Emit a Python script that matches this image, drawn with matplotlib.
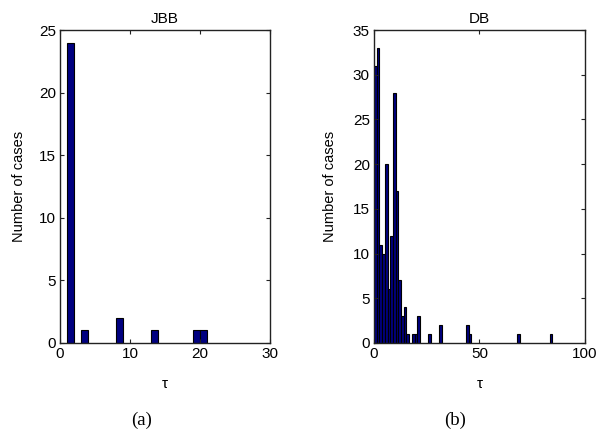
import matplotlib
matplotlib.use("Agg")
import matplotlib.pyplot as plt

# JBB histogram
jbb_centers = [1.5, 3.5, 8.5, 13.5, 19.5, 20.5]
jbb_counts = [24, 1, 2, 1, 1, 1]
jbb_width = 1.0

# DB histogram (bin index, count), bin width ~1.28
db_bin_width = 1.28
db_bins = [0, 1, 2, 3, 4, 5, 6, 7, 8, 9, 10, 11, 12, 14, 15, 16, 20, 24, 34, 35, 53, 65]
db_counts = [31, 33, 11, 10, 20, 6, 12, 28, 17, 7, 3, 4, 1, 1, 1, 3, 1, 2, 2, 1, 1, 1]

jbb_xticks = [0, 10, 20, 30]
jbb_yticks = [0, 5, 10, 15, 20, 25]
db_xticks = [0, 50, 100]
db_yticks = [0, 5, 10, 15, 20, 25, 30, 35]

bar_color = (0, 0, 0.5)
plt.rcParams['font.family'] = ['Liberation Sans', 'DejaVu Sans']

fig = plt.figure(figsize=(5.99, 4.32), dpi=100)
W, H = 599, 432
axL = fig.add_axes([60 / W, (H - 343) / H, 210 / W, 313 / H])
axR = fig.add_axes([374 / W, (H - 343) / H, 211 / W, 313 / H])

axL.bar(jbb_centers, jbb_counts, width=jbb_width, color=bar_color,
        edgecolor='black', linewidth=0.8)
db_centers = [(b + 0.5) * db_bin_width for b in db_bins]
axR.bar(db_centers, db_counts, width=db_bin_width, color=bar_color,
        edgecolor='black', linewidth=0.8)

for ax, title, xt, yt, xl, yl in [
    (axL, 'JBB', jbb_xticks, jbb_yticks, (0, 30), (0, 25)),
    (axR, 'DB', db_xticks, db_yticks, (0, 100), (0, 35)),
]:
    ax.set_xlim(*xl)
    ax.set_ylim(*yl)
    ax.set_xticks(xt)
    ax.set_yticks(yt)
    ax.tick_params(direction='in', length=3, width=0.8, top=True, right=True,
                   labelsize=11, colors='#222222', labelcolor='black', pad=3)
    for s in ax.spines.values():
        s.set_linewidth(1.0)
        s.set_color('#222222')
    ax.set_title(title, fontsize=11, pad=5)
    ax.set_ylabel('Number of cases', fontsize=10.5)
    ax.set_xlabel('τ', fontsize=11)

axL.yaxis.set_label_coords(-0.162, 0.5)
axR.yaxis.set_label_coords(-0.175, 0.5)
axL.xaxis.set_label_coords(0.5, -0.11)
axR.xaxis.set_label_coords(0.5, -0.11)

fig.text(142 / W, 1 - 420 / H, '(a)', ha='center', va='center', fontsize=13.5,
         family='Liberation Serif')
fig.text(455 / W, 1 - 420 / H, '(b)', ha='center', va='center', fontsize=13.5,
         family='Liberation Serif')

fig.savefig('out.png', dpi=100)
